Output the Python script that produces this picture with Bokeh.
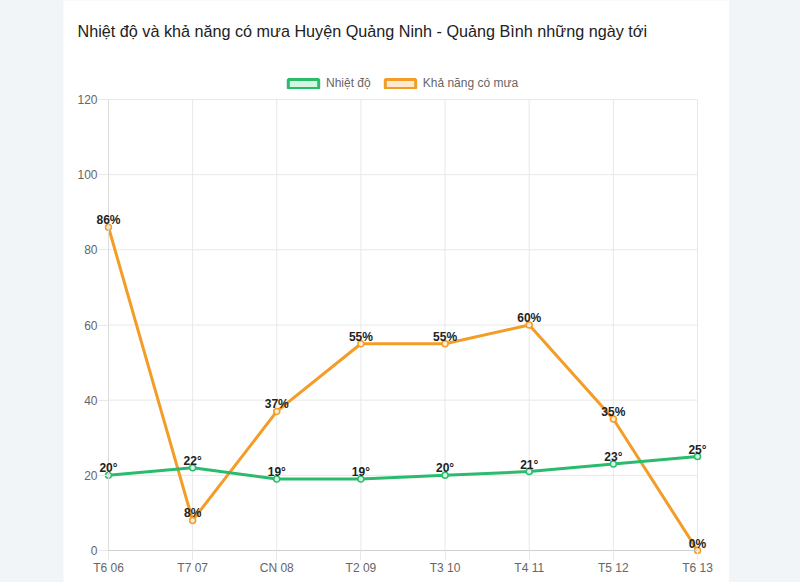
import math
from bokeh.plotting import figure
from bokeh.models import (FixedTicker, Legend, LegendItem, ColumnDataSource, Spacer, Range1d,
                          LabelSet, Label, LinearAxis)
from bokeh.layouts import row
from bokeh.embed import file_html
from bokeh.resources import INLINE
from bokeh.core.properties import value

# ---- data ----
days = ["T6 06", "T7 07", "CN 08", "T2 09", "T3 10", "T4 11", "T5 12", "T6 13"]
temperature = [20, 22, 19, 19, 20, 21, 23, 25]
rain_chance = [86, 8, 37, 55, 55, 60, 35, 0]
y_ticks = [0, 20, 40, 60, 80, 100, 120]
title_text = "Nhiệt độ và khả năng có mưa Huyện Quảng Ninh - Quảng Bình những ngày tới"
series_names = ["Nhiệt độ", "Khả năng có mưa"]

GREEN = "#2bbb6c"
GREEN_FILL = "#d4f5e2"
ORANGE = "#f39c26"
ORANGE_FILL = "#fde9cf"
GRID = "#e8e8e8"
FONT = "Liberation Sans"

# ---- layout (page pixels) ----
CARD_L, CARD_R, PAGE_H = 63, 729, 582
PLOT_L, PLOT_R, PLOT_T, PLOT_B = 108, 697, 99, 550
W = CARD_R - CARD_L
Y_MAX = y_ticks[-1]
idx = list(range(len(days)))
N = len(days) - 1
sx = (PLOT_R - PLOT_L) / N
sy = (PLOT_B - PLOT_T) / Y_MAX


def px_x(px):
    return (px - PLOT_L) / sx


def px_y(py):
    return (PLOT_B - py) / sy


p = figure(width=W, height=PAGE_H, output_backend="svg", toolbar_location=None, title=None,
           x_range=Range1d(px_x(CARD_L), px_x(CARD_R)),
           y_range=Range1d(px_y(PAGE_H), px_y(0)),
           x_axis_type=None, y_axis_type=None, min_border=0,
           background_fill_color="white", border_fill_color="white",
           outline_line_color=None)

# grid lines, limited to the data area (from the tick lists)
p.segment(x0=[0] * len(y_ticks), x1=[N] * len(y_ticks), y0=y_ticks, y1=y_ticks,
          line_color=GRID, line_width=1)
p.segment(x0=idx, x1=idx, y0=[0] * len(idx), y1=[Y_MAX] * len(idx),
          line_color=GRID, line_width=1)

xaxis = LinearAxis(fixed_location=0, ticker=FixedTicker(ticks=idx), bounds=(0, N),
                   major_label_overrides={i: d for i, d in enumerate(days)})
yaxis = LinearAxis(fixed_location=0, ticker=FixedTicker(ticks=y_ticks), bounds=(0, Y_MAX))
for ax in (xaxis, yaxis):
    ax.major_tick_out = 10
    ax.major_tick_in = 0
    ax.minor_tick_out = 0
    ax.minor_tick_in = 0
    ax.major_tick_line_color = GRID
    ax.axis_line_color = "#dcdcdc"
    ax.major_label_text_font = FONT
    ax.major_label_text_font_size = "12px"
    ax.major_label_text_color = "#666666"
xaxis.axis_line_color = "#cfcfcf"
yaxis.major_label_standoff = 1
xaxis.major_label_standoff = 0
p.add_layout(xaxis, "below")
p.add_layout(yaxis, "left")

src = ColumnDataSource(dict(x=idx, t=temperature, r=rain_chance,
                            tl=[f"{v}°" for v in temperature],
                            rl=[f"{v}%" for v in rain_chance]))

p.line("x", "r", source=src, line_color=ORANGE, line_width=3)
p.scatter("x", "r", source=src, size=6, fill_color=ORANGE_FILL, line_color=ORANGE, line_width=1.5)
p.line("x", "t", source=src, line_color=GREEN, line_width=3)
p.scatter("x", "t", source=src, size=6, fill_color=GREEN_FILL, line_color=GREEN, line_width=1.5)

for col, ycol in (("rl", "r"), ("tl", "t")):
    p.add_layout(LabelSet(x="x", y=ycol, text=col, source=src, text_align="center",
                          text_baseline="alphabetic", y_offset=3, text_font=value(FONT),
                          text_font_size=value("12px"), text_font_style=value("bold"),
                          text_color=value("#222222")))

# title
p.add_layout(Label(x=px_x(77), y=px_y(30), text=title_text, text_font=FONT,
                   text_font_size="16.2px", text_color="#222222",
                   text_baseline="middle", text_align="left"))

# legend (swatches are empty boxes carrying only the style)
nan = [math.nan]
g1 = p.quad(left=nan, right=nan, top=nan, bottom=nan, fill_color=GREEN_FILL,
            line_color=GREEN, line_width=3)
g2 = p.quad(left=nan, right=nan, top=nan, bottom=nan, fill_color=ORANGE_FILL,
            line_color=ORANGE, line_width=3)
legend = Legend(items=[LegendItem(label=series_names[0], renderers=[g1]),
                       LegendItem(label=series_names[1], renderers=[g2])],
                orientation="horizontal", location=(284 - CARD_L, PAGE_H - 90),
                glyph_width=38, glyph_height=11, label_standoff=4, spacing=10,
                padding=0, margin=0, border_line_color=None, background_fill_alpha=0,
                label_text_font=FONT, label_text_font_size="12px",
                label_text_color="#666666", label_height=12)
p.add_layout(legend, "center")

layout = row(Spacer(width=CARD_L, height=PAGE_H), p)

html = file_html(layout, INLINE)
css = "<style>body{background:#f2f5f7;}</style></head>"
html = html.replace("</head>", css, 1)
open("out.html", "w").write(html)
